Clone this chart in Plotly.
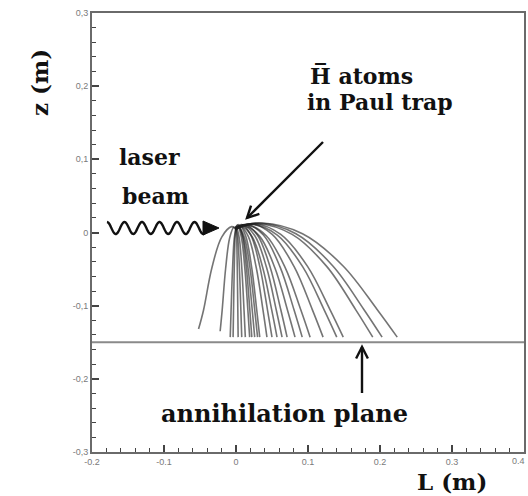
import numpy as np
import plotly.graph_objects as go

# ---------------- data ----------------
x_tickvals = [-0.2, -0.1, 0, 0.1, 0.2, 0.3, 0.4]
x_ticktext = ["-0.2", "-0.1", "0", "0.1", "0.2", "0.3", "0.4"]
y_tickvals = [-0.3, -0.2, -0.1, 0, 0.1, 0.2, 0.3]
y_ticktext = ["-0,3", "-0,2", "-0,1", "0", "0,1", "0,2", "0,3"]
plane_z = -0.15

t01_L = [0, -0.006, -0.0198, -0.0336, -0.0451, -0.052]
t01_z = [0.0053, 0.008, -0.0062, -0.0489, -0.1062, -0.132]
t02_L = [0, -0.003, -0.0087, -0.0144, -0.0192, -0.022]
t02_z = [0.0031, 0.007, -0.0071, -0.0495, -0.1064, -0.135]
t03_L = [0, -0.0024, -0.0048, -0.0068, -0.008]
t03_z = [0.006, -0.008, -0.0502, -0.1067, -0.143]
t04_L = [0, -0.0012, -0.0024, -0.0034, -0.004]
t04_z = [0.008, -0.0062, -0.0489, -0.1062, -0.143]
t05_L = [0, 0.0009, 0.0018, 0.00255, 0.003]
t05_z = [0.009, -0.0053, -0.0482, -0.1059, -0.143]
t06_L = [0, 0.0024, 0.0048, 0.0068, 0.008]
t06_z = [0.007, -0.0071, -0.0495, -0.1064, -0.143]
t07_L = [0, 0.002, 0.0071, 0.0122, 0.0165, 0.019]
t07_z = [0.0078, 0.010, -0.0044, -0.0476, -0.1056, -0.143]
t08_L = [0, 0.003, 0.0099, 0.0168, 0.0226, 0.026]
t08_z = [0.0053, 0.008, -0.0062, -0.0489, -0.1062, -0.143]
t09_L = [0, 0.005, 0.0134, 0.0218, 0.0288, 0.033]
t09_z = [0.0049, 0.010, -0.0044, -0.0476, -0.1056, -0.143]
t10_L = [0, 0.006, 0.0171, 0.0282, 0.0375, 0.043]
t10_z = [0.0048, 0.009, -0.0053, -0.0482, -0.1059, -0.143]
t11_L = [0, 0.008, 0.0206, 0.0332, 0.0437, 0.050]
t11_z = [0.0052, 0.011, -0.0035, -0.047, -0.1053, -0.143]
t12_L = [0, 0.008, 0.0227, 0.0374, 0.0497, 0.057]
t12_z = [0.0038, 0.008, -0.0062, -0.0489, -0.1062, -0.143]
t13_L = [0, 0.010, 0.0262, 0.0424, 0.0559, 0.064]
t13_z = [0.0045, 0.010, -0.0044, -0.0476, -0.1056, -0.143]
t14_L = [0, 0.012, 0.0297, 0.0474, 0.0622, 0.071]
t14_z = [0.0043, 0.011, -0.0035, -0.047, -0.1053, -0.143]
t15_L = [0, 0.012, 0.033, 0.054, 0.0715, 0.082]
t15_z = [0.0043, 0.009, -0.0053, -0.0482, -0.1059, -0.143]
t16_L = [0, 0.015, 0.0381, 0.0612, 0.0805, 0.092]
t16_z = [0.0049, 0.011, -0.0035, -0.047, -0.1053, -0.143]
t17_L = [0, 0.016, 0.0421, 0.0682, 0.090, 0.103]
t17_z = [0.0046, 0.010, -0.0044, -0.0476, -0.1056, -0.143]
t18_L = [0, 0.020, 0.0503, 0.0806, 0.1059, 0.121]
t18_z = [0.0056, 0.012, -0.0026, -0.0463, -0.105, -0.143]
t19_L = [0, 0.022, 0.0574, 0.0928, 0.1223, 0.140]
t19_z = [0.0054, 0.011, -0.0035, -0.047, -0.1053, -0.143]
t20_L = [0, 0.025, 0.0622, 0.0994, 0.1304, 0.149]
t20_z = [0.0054, 0.012, -0.0026, -0.0463, -0.105, -0.143]
t21_L = [0, 0.030, 0.078, 0.126, 0.166, 0.190]
t21_z = [0.0063, 0.012, -0.0026, -0.0463, -0.105, -0.143]
t22_L = [0, 0.032, 0.0833, 0.1346, 0.1774, 0.203]
t22_z = [0.0073, 0.013, -0.0017, -0.0457, -0.1048, -0.143]
t23_L = [0, 0.036, 0.0924, 0.1488, 0.1958, 0.224]
t23_z = [0.007, 0.013, -0.0017, -0.0457, -0.1048, -0.143]
t24_L = [0, 0.001, 0.0046, 0.0082, 0.0112, 0.013]
t24_z = [0.0049, 0.006, -0.008, -0.0502, -0.1067, -0.143]
t25_L = [0, 0.003, 0.0087, 0.0144, 0.0192, 0.022]
t25_z = [0.007, 0.011, -0.0035, -0.047, -0.1053, -0.143]
t26_L = [0, 0.004, 0.0118, 0.0196, 0.0261, 0.030]
t26_z = [0.0033, 0.007, -0.0071, -0.0495, -0.1064, -0.143]

trajectories = [
    (t01_L, t01_z), (t02_L, t02_z), (t03_L, t03_z), (t04_L, t04_z),
    (t05_L, t05_z), (t06_L, t06_z), (t07_L, t07_z), (t08_L, t08_z),
    (t09_L, t09_z), (t10_L, t10_z), (t11_L, t11_z), (t12_L, t12_z),
    (t13_L, t13_z), (t14_L, t14_z), (t15_L, t15_z), (t16_L, t16_z),
    (t17_L, t17_z), (t18_L, t18_z), (t19_L, t19_z), (t20_L, t20_z),
    (t21_L, t21_z), (t22_L, t22_z), (t23_L, t23_z), (t24_L, t24_z),
    (t25_L, t25_z), (t26_L, t26_z),
]

# ---------------- layout geometry ----------------
W, H = 528, 496
ML, MR, MT, MB = 92, 4, 13, 44
XR = (-0.2, 0.4001)
YR = (-0.3, 0.3)
PW, PH = W - ML - MR, H - MT - MB


def X(px):
    return XR[0] + (px - ML) * (XR[1] - XR[0]) / PW


def Y(py):
    return YR[1] - (py - MT) * (YR[1] - YR[0]) / PH


def PX(px):
    return (px - ML) / PW


def PY(py):
    return 1 - (py - MT) / PH


fig = go.Figure()
for L, z in trajectories:
    fig.add_trace(go.Scatter(
        x=L, y=z, mode="lines",
        line=dict(color="rgba(30,30,30,0.62)", width=1.6, shape="spline", smoothing=1.0),
        hoverinfo="skip", showlegend=False))

shapes = []
# annihilation plane
shapes.append(dict(type="line", xref="paper", x0=0, x1=1, yref="y", y0=plane_z, y1=plane_z,
                   line=dict(color="#8a8a8a", width=2.2), layer="above"))


def arrow(tail, head, hl=13, ang=27, width=2.4):
    tx, ty = tail
    hx, hy = head
    d = np.array([hx - tx, hy - ty], float)
    d /= np.linalg.norm(d)
    pts = []
    for s in (1, -1):
        a = np.deg2rad(ang) * s
        r = np.array([d[0] * np.cos(a) - d[1] * np.sin(a), d[0] * np.sin(a) + d[1] * np.cos(a)])
        pts.append((hx - hl * r[0], hy - hl * r[1]))
    p1 = f"M {X(tx)},{Y(ty)} L {X(hx)},{Y(hy)}"
    p2 = f"M {X(pts[0][0])},{Y(pts[0][1])} L {X(hx)},{Y(hy)} L {X(pts[1][0])},{Y(pts[1][1])}"
    return [dict(type="path", xref="x", yref="y", path=p, line=dict(color="#111", width=width))
            for p in (p1, p2)]


shapes += arrow((323, 142), (247, 218))
shapes += arrow((362, 393), (362, 347))

# wavy laser beam
xs = np.linspace(107, 206, 200)
ys = 228 - 6 * np.sin((xs - 107) / 17.5 * 2 * np.pi + np.pi / 2)
wave = "M " + " L ".join(f"{X(a)},{Y(b)}" for a, b in zip(xs, ys))
shapes.append(dict(type="path", xref="x", yref="y", path=wave, line=dict(color="#111", width=2.4)))
tri = f"M {X(203)},{Y(221)} L {X(219)},{Y(228)} L {X(203)},{Y(235)} Z"
shapes.append(dict(type="path", xref="x", yref="y", path=tri, fillcolor="#111",
                   line=dict(color="#111", width=1)))

tf = dict(family="DejaVu Serif", size=22, color="#111")
tickfont = dict(family="Liberation Sans", size=9, color="#7a7a7a")
ann = []


def txt(s, px, py, xanchor="left", size=22, angle=0):
    f = dict(tf)
    f["size"] = size
    ann.append(dict(text=f"<b>{s}</b>", x=PX(px), y=PY(py), xref="paper", yref="paper",
                    xanchor=xanchor, yanchor="middle", showarrow=False, font=f, textangle=angle))


txt("laser", 117, 157)
txt("beam", 120, 196)
txt("H\u0305 atoms", 308, 76)
txt("in Paul trap", 305, 102)
txt("annihilation plane", 284, 413, xanchor="center", size=24)
txt("L (m)", 452, 482, xanchor="center", size=23)
txt("z (m)", 39, 83, xanchor="center", size=23, angle=-90)

# last x tick label sits at the very edge of the picture: keep it inside
x_labels_shown = x_ticktext[:-1] + [""]
ann.append(dict(text=x_ticktext[-1], x=PX(527), y=PY(461), xref="paper", yref="paper",
                xanchor="right", yanchor="middle", showarrow=False, font=tickfont))

fig.update_layout(
    width=W, height=H,
    margin=dict(l=ML, r=MR, t=MT, b=MB, autoexpand=False),
    plot_bgcolor="white", paper_bgcolor="white",
    shapes=shapes, annotations=ann,
    xaxis=dict(range=list(XR), tickmode="array", tickvals=x_tickvals, ticktext=x_labels_shown,
               ticks="inside", ticklen=7, tickwidth=1.5, tickcolor="#444",
               minor=dict(dtick=0.02, ticks="inside", ticklen=4, tickcolor="#444", tickwidth=1.2),
               showline=True, linecolor="#6a6a6a", linewidth=2, mirror=True, automargin=False,
               showgrid=False, zeroline=False, tickfont=tickfont),
    yaxis=dict(range=list(YR), tickmode="array", tickvals=y_tickvals, ticktext=y_ticktext,
               ticks="inside", ticklen=7, tickwidth=1.5, tickcolor="#444",
               minor=dict(dtick=0.02, ticks="inside", ticklen=4, tickcolor="#444", tickwidth=1.2),
               showline=True, linecolor="#6a6a6a", linewidth=2, mirror=True, automargin=False,
               showgrid=False, zeroline=False, tickfont=tickfont, ticklabeloverflow="allow"),
)

fig.write_html("out.html")
